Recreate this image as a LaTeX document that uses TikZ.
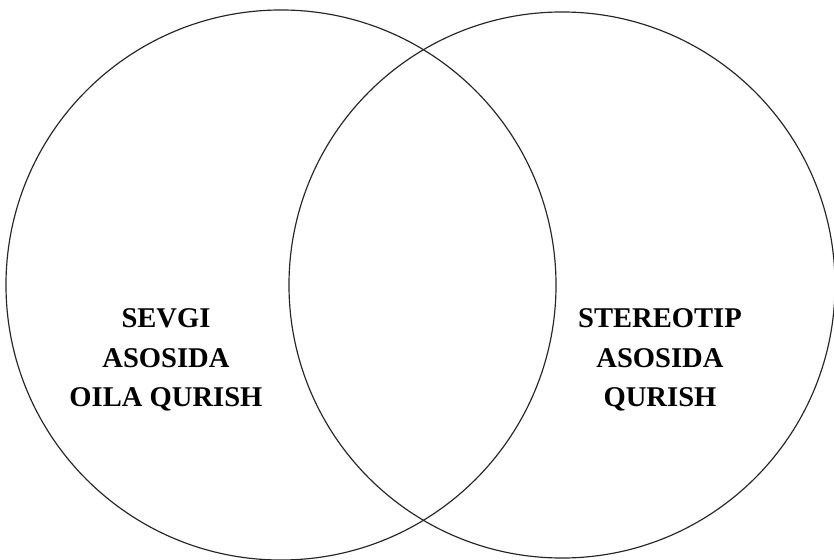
\documentclass[tikz,border=0pt]{standalone}
\usepackage{fontspec}
\setmainfont{Liberation Serif}
\usepackage{tikz}
\usetikzlibrary{positioning}

\begin{document}
\begin{tikzpicture}[
    x=0.03cm, y=-0.03cm,
    venn/.style={circle, draw=black!85, line width=1pt, inner sep=0pt,
                 outer sep=0pt, minimum size=#1},
    lbl/.style={align=center, font=\fontsize{24.4}{34}\selectfont\bfseries}
]
    \useasboundingbox (0,0) rectangle (834,560);

    \node[venn=16.5cm]  (love)  at (281,285) {};
    \node[venn=16.38cm] (stereo) at (562,285) {};

    \node[lbl] (lovetxt)   at (166,360) {SEVGI\\ASOSIDA\\OILA QURISH};
    \node[lbl] (stereotxt) at (660,360) {STEREOTIP\\ASOSIDA\\QURISH};
\end{tikzpicture}
\end{document}
